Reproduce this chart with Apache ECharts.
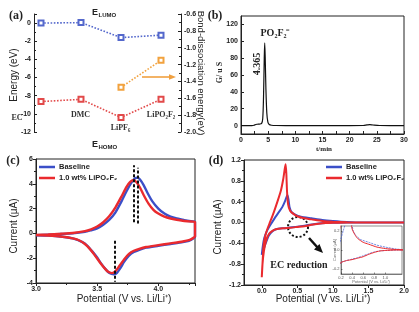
<!DOCTYPE html>
<html><head><meta charset="utf-8">
<script src="https://cdn.jsdelivr.net/npm/echarts@6/dist/echarts.min.js"></script>
<style>html,body{margin:0;padding:0;background:#fff}#c{width:419px;height:312px}</style>
</head><body><div id="c"></div>
<script>
// ---------- Panel (a) ----------
const categoriesA = ['EC', 'DMC', 'LiPF₆', 'LiPO₂F₂'];
const lumoA = [0, 0.05, -1.6, -1.33];
const homoA = [-8.65, -8.4, -10.4, -8.4];
const bondA = [null, null, -1.47, -1.15];
// ---------- Panel (b) ----------
const timeB   = [0, 1, 2, 2.4, 2.7, 3.0, 3.4, 3.8, 4.0, 4.15, 4.28, 4.365, 4.45, 4.58, 4.75, 4.95, 5.2, 5.6, 6.5, 10, 15, 20, 22.5, 23.2, 23.7, 24.3, 25.5, 30];
const signalB = [0, 0, 0, 0.4, 1.3, 1.6, 1.8, 2.6, 8, 35, 80, 98, 82, 45, 15, 4, 1.2, 0.4, 0.1, 0, 0, 0, 0.1, 0.8, 1.2, 0.7, 0.1, 0];
// ---------- Panel (c) ----------
const cvBaselineC = [[3.0,-0.15],[3.1,-0.1],[3.2,-0.05],[3.3,0.0],[3.4,0.12],[3.45,0.25],[3.5,0.4],[3.55,0.7],[3.6,1.1],[3.65,1.7],[3.7,2.6],[3.74,3.4],[3.78,4.1],[3.81,4.45],[3.83,4.5],[3.85,4.35],[3.88,3.9],[3.91,3.3],[3.95,2.6],[4.0,2.0],[4.05,1.6],[4.1,1.35],[4.15,1.2],[4.2,1.1],[4.25,1.0],[4.3,0.95],[4.3,-0.3],[4.28,-0.45],[4.25,-0.6],[4.2,-0.7],[4.1,-0.85],[4.0,-1.0],[3.9,-1.15],[3.85,-1.3],[3.8,-1.5],[3.76,-1.8],[3.72,-2.3],[3.69,-2.8],[3.66,-3.2],[3.635,-3.3],[3.6,-3.2],[3.57,-2.9],[3.53,-2.4],[3.5,-1.95],[3.46,-1.45],[3.42,-1.0],[3.38,-0.7],[3.3,-0.4],[3.2,-0.25],[3.1,-0.18],[3.0,-0.15]];
const cvLiPO2F2C = [[3.0,-0.12],[3.1,-0.08],[3.2,-0.03],[3.3,0.03],[3.4,0.18],[3.45,0.33],[3.5,0.55],[3.55,0.9],[3.6,1.4],[3.65,2.1],[3.7,3.0],[3.74,3.75],[3.77,4.15],[3.795,4.3],[3.82,4.15],[3.85,3.7],[3.88,3.1],[3.92,2.4],[3.96,1.9],[4.0,1.6],[4.05,1.35],[4.1,1.2],[4.15,1.1],[4.2,1.02],[4.25,0.97],[4.3,0.92],[4.3,-0.25],[4.28,-0.4],[4.25,-0.55],[4.2,-0.65],[4.1,-0.8],[4.0,-0.95],[3.9,-1.1],[3.85,-1.22],[3.8,-1.4],[3.76,-1.65],[3.72,-2.1],[3.68,-2.65],[3.65,-3.05],[3.62,-3.2],[3.59,-3.1],[3.56,-2.8],[3.52,-2.3],[3.48,-1.75],[3.44,-1.25],[3.4,-0.85],[3.35,-0.55],[3.3,-0.4],[3.2,-0.25],[3.1,-0.18],[3.0,-0.14]];
// ---------- Panel (d) ----------
const cvBaselineD = [[2.0,0],[1.2,0],[1.0,-0.005],[0.9,-0.01],[0.8,-0.02],[0.7,-0.04],[0.6,-0.06],[0.5,-0.08],[0.4,-0.095],[0.3,-0.11],[0.2,-0.13],[0.15,-0.17],[0.1,-0.25],[0.06,-0.38],[0.03,-0.5],[0.0,-0.62],[0.015,-0.45],[0.035,-0.3],[0.07,-0.17],[0.12,-0.05],[0.18,0.08],[0.24,0.2],[0.29,0.3],[0.33,0.42],[0.36,0.53],[0.375,0.45],[0.39,0.3],[0.42,0.2],[0.47,0.15],[0.55,0.11],[0.7,0.08],[0.85,0.05],[1.0,0.03],[1.2,0.01],[1.4,0],[2.0,0]];
const cvLiPO2F2D = [[2.0,0],[1.2,0],[1.0,-0.005],[0.9,-0.01],[0.8,-0.025],[0.7,-0.045],[0.6,-0.07],[0.5,-0.085],[0.4,-0.1],[0.3,-0.11],[0.2,-0.13],[0.15,-0.16],[0.1,-0.22],[0.06,-0.35],[0.03,-0.55],[0.01,-0.8],[0.0,-1.05],[0.01,-0.8],[0.025,-0.45],[0.05,-0.25],[0.08,-0.12],[0.12,0.02],[0.17,0.2],[0.22,0.4],[0.27,0.62],[0.3,0.82],[0.32,1.0],[0.335,1.12],[0.345,0.95],[0.355,0.6],[0.37,0.35],[0.4,0.22],[0.45,0.16],[0.5,0.12],[0.6,0.08],[0.7,0.06],[0.85,0.03],[1.0,0.015],[1.2,0.005],[1.5,0],[2.0,0]];
const seriesNames = ['Baseline', '1.0 wt% LiPO₂F₂'];
// ---------- tick labels ----------
const ticksBy = [0, 20, 40, 60, 80, 100, 120];
const ticksDx = [0, 0.5, 1.0, 1.5, 2.0];
const ticksInsetX = [0.2, 0.4, 0.6, 0.8, 1.0];
const ticksInsetY = [-0.2, 0, 0.2];

const sans = "'Liberation Sans', Arial, sans-serif";
const serif = "'Liberation Serif', 'Times New Roman', serif";
const C_BLUE = '#3b4fc8', C_RED = '#ea2a2e';

function merge(a, b) {
  const o = Array.isArray(a) ? a.slice() : Object.assign({}, a);
  for (const k in b) {
    if (b[k] && typeof b[k] === 'object' && !Array.isArray(b[k]) && a[k] && typeof a[k] === 'object') o[k] = merge(a[k], b[k]);
    else o[k] = b[k];
  }
  return o;
}
const baseAxis = {
  type: 'value',
  axisLine: { show: true, onZero: false, lineStyle: { color: '#222', width: 1 } },
  axisTick: { show: true, inside: true, length: 3, lineStyle: { color: '#222', width: 1 } },
  minorTick: { show: false },
  splitLine: { show: false },
  axisLabel: { color: '#222', fontSize: 7, fontWeight: 'bold', fontFamily: sans, margin: 3 }
};
const ax = o => merge(baseAxis, o);
const f1 = v => v.toFixed(1);

const grids = [
  { left: 34, top: 14, width: 147, height: 118 },
  { left: 241, top: 16, width: 163, height: 118, show: true, borderColor: '#222', borderWidth: 1 },
  { left: 36, top: 159, width: 159, height: 124, show: true, borderColor: '#222', borderWidth: 1 },
  { left: 244, top: 160, width: 160, height: 125, show: true, borderColor: '#222', borderWidth: 1 },
  { left: 341, top: 226, width: 61, height: 48, show: true, borderColor: '#444', borderWidth: 0.6 }
].map(g => Object.assign({ outerBoundsMode: 'none', containLabel: false }, g));

const xAxes = [
  { gridIndex: 0, type: 'value', min: -0.175, max: 3.5, show: false },
  ax({ gridIndex: 1, min: 0, max: 30, interval: 5, minorTick: { show: true, splitNumber: 2, length: 3, lineStyle: { color: '#222' } } }),
  ax({ gridIndex: 2, min: 3.0, max: 4.3, interval: 0.5, axisTick: { inside: false }, minorTick: { show: true, splitNumber: 2, length: 2 }, axisLabel: { formatter: f1, showMaxLabel: false } }),
  ax({ gridIndex: 3, min: -0.25, max: 2.0, axisTick: { inside: false, customValues: ticksDx }, axisLabel: { formatter: f1, customValues: ticksDx } }),
  ax({ gridIndex: 4, min: 0.2, max: 1.3, axisLine: { lineStyle: { width: 0.6, color: '#444' } }, axisTick: { length: 1.5, customValues: ticksInsetX, lineStyle: { width: 0.5 } }, axisLabel: { fontSize: 4, fontWeight: 'normal', color: '#555', margin: 1.5, formatter: f1, customValues: ticksInsetX } })
];
const yAxes = [
  ax({ gridIndex: 0, position: 'left', min: -12, max: 1, interval: 2, axisLabel: { showMaxLabel: false }, minorTick: { show: true, splitNumber: 2, length: 2 } }),
  ax({ gridIndex: 0, position: 'right', min: -2.0, max: -0.6, interval: 0.2, axisLabel: { formatter: f1 }, minorTick: { show: true, splitNumber: 2, length: 2 } }),
  ax({ gridIndex: 1, min: -10, max: 130, axisTick: { customValues: ticksBy }, axisLabel: { customValues: ticksBy } }),
  ax({ gridIndex: 2, min: -4, max: 6, interval: 2, axisTick: { inside: false }, minorTick: { show: true, splitNumber: 2, length: 2 } }),
  ax({ gridIndex: 3, min: -1.2, max: 1.2, interval: 0.4, axisTick: { inside: false }, axisLabel: { formatter: f1 }, minorTick: { show: true, splitNumber: 2, length: 2 } }),
  ax({ gridIndex: 4, min: -0.25, max: 0.25, axisLine: { lineStyle: { width: 0.6, color: '#444' } }, axisTick: { length: 1.5, customValues: ticksInsetY, lineStyle: { width: 0.5 } }, axisLabel: { fontSize: 4, fontWeight: 'normal', color: '#555', margin: 1.5, formatter: f1, customValues: ticksInsetY } })
];

function dotted(name, vals, color, yIdx) {
  return {
    name, type: 'line', xAxisIndex: 0, yAxisIndex: yIdx,
    data: vals.map((v, i) => [i, v]).filter(p => p[1] !== null),
    symbol: 'emptyRect', symbolSize: 5, showSymbol: true,
    lineStyle: { color, width: 1.6, type: 'dotted' },
    itemStyle: { color, borderColor: color, borderWidth: 1.2 },
    silent: true, animation: false
  };
}
function cv(name, data, color, xi, yi, width, extra) {
  return Object.assign({
    name, type: 'line', xAxisIndex: xi, yAxisIndex: yi, data,
    showSymbol: false, symbol: 'none', smooth: 0.2,
    lineStyle: { color, width }, itemStyle: { color },
    silent: true, animation: false, clip: true
  }, extra || {});
}
const dashMark = (segs) => ({
  symbol: ['none', 'none'], silent: true, label: { show: false },
  lineStyle: { color: '#111', width: 2, type: [3, 2] },
  data: segs
});

const series = [
  dotted('LUMO', lumoA, '#5468cc', 0),
  dotted('HOMO', homoA, '#e24a4a', 0),
  dotted('Bond', bondA, '#f2a23e', 1),
  { name: 'IC', type: 'line', xAxisIndex: 1, yAxisIndex: 2, data: timeB.map((t, i) => [t, signalB[i]]), showSymbol: false, symbol: 'none', smooth: 0.3, lineStyle: { color: '#111', width: 1.2 }, silent: true, animation: false },
  cv(seriesNames[0], cvBaselineC, C_BLUE, 2, 3, 2.4),
  cv(seriesNames[1], cvLiPO2F2C, C_RED, 2, 3, 2.4, {
    markLine: dashMark([
      [{ coord: [3.80, 0.9] }, { coord: [3.80, 5.5] }],
      [{ coord: [3.835, 0.8] }, { coord: [3.835, 5.3] }],
      [{ coord: [3.645, -0.6] }, { coord: [3.645, -3.9] }]
    ])
  }),
  cv(seriesNames[0], cvBaselineD, C_BLUE, 3, 4, 2),
  cv(seriesNames[1], cvLiPO2F2D, C_RED, 3, 4, 2),
  cv(seriesNames[0], cvBaselineD, '#4a64d8', 4, 5, 0.8, { lineStyle: { color: '#4a64d8', width: 0.8, type: [2, 1] } }),
  cv(seriesNames[1], cvLiPO2F2D, C_RED, 4, 5, 1)
];

const T = (text, x, y, font, opts) => Object.assign({
  type: 'text', x, y, silent: true,
  style: Object.assign({ text, font, fill: '#222', align: 'center', verticalAlign: 'middle' }, (opts && opts.style) || {})
}, opts && opts.rotation !== undefined ? { rotation: opts.rotation } : {});

const graphic = [
  // panel labels
  T('(a)', 16, 16, `bold 12px ${serif}`),
  T('(b)', 215, 16, `bold 12px ${serif}`),
  T('(c)', 13, 161, `bold 12px ${serif}`),
  T('(d)', 216, 161, `bold 12px ${serif}`),
  // (a) texts
  T('E', 92, 12.5, `bold 9px ${sans}`, { style: { align: 'left' } }),
  T('LUMO', 98.5, 15, `bold 6px ${sans}`, { style: { align: 'left' } }),
  T('E', 92, 144.5, `bold 9px ${sans}`, { style: { align: 'left' } }),
  T('HOMO', 98.5, 147, `bold 6px ${sans}`, { style: { align: 'left' } }),
  T(categoriesA[0], 17, 118, `bold 8px ${serif}`, { style: { fill: '#333' } }),
  T(categoriesA[1], 80.5, 115, `bold 8px ${serif}`, { style: { fill: '#333' } }),
  T(categoriesA[2], 120.5, 127.5, `bold 8px ${serif}`, { style: { fill: '#333' } }),
  T(categoriesA[3], 161, 115, `bold 8px ${serif}`, { style: { fill: '#333' } }),
  T('Energy (eV)', 14, 75, `10px ${sans}`, { rotation: Math.PI / 2 }),
  T('Bond-dissociation energy(eV)', 201, 73, `9.5px ${sans}`, { rotation: -Math.PI / 2 }),
  { type: 'line', silent: true, shape: { x1: 142, y1: 77, x2: 170, y2: 77 }, style: { stroke: '#f0a040', lineWidth: 1.6 } },
  { type: 'polygon', silent: true, shape: { points: [[176, 77], [169, 74.3], [169, 79.7]] }, style: { fill: '#f0a040' } },
  // (b) texts
  T('PO₂F₂⁻', 275, 33.5, `bold 10px ${serif}`),
  T('4.365', 257.5, 64, `bold 10px ${serif}`, { rotation: Math.PI / 2 }),
  T('G/ u S', 220, 72.5, `bold 8px ${serif}`, { rotation: Math.PI / 2 }),
  T('t/min', 324, 149, `bold 7px ${serif}`),
  // (c) texts
  T('Current (μA)', 14, 226, `10px ${sans}`, { rotation: Math.PI / 2 }),
  T('Potential (V vs. Li/Li⁺)', 124, 299, `10px ${sans}`),
  // (d) texts
  T('Current (μA)', 218, 227, `10px ${sans}`, { rotation: Math.PI / 2 }),
  T('Potential (V vs. Li/Li⁺)', 323, 299, `10px ${sans}`),
  T('EC reduction', 299, 265, `bold 10px ${serif}`),
  { type: 'circle', silent: true, shape: { cx: 298, cy: 227, r: 10 }, style: { fill: 'none', stroke: '#111', lineWidth: 2, lineDash: [2, 2] } },
  { type: 'line', silent: true, shape: { x1: 309, y1: 238, x2: 318, y2: 248 }, style: { stroke: '#111', lineWidth: 2.5 } },
  { type: 'polygon', silent: true, shape: { points: [[323, 253], [314, 249.5], [319.5, 244]] }, style: { fill: '#111' } },
  T('Current (μA)', 334.5, 250, `4px ${sans}`, { rotation: Math.PI / 2, style: { fill: '#666' } }),
  T('Potential (V vs. Li/Li⁺)', 371, 282, `4px ${sans}`, { style: { fill: '#666' } })
];

const legendBase = {
  orient: 'vertical', itemGap: 3, itemWidth: 16, itemHeight: 2.5, selectedMode: false,
  icon: 'rect', data: seriesNames, padding: 0,
  textStyle: { fontSize: 7.5, fontWeight: 'bold', fontFamily: sans, color: '#222', padding: [0, 0, 0, -1] }
};

const chart = echarts.init(document.getElementById('c'), null, { renderer: 'canvas' });
chart.setOption({
  backgroundColor: '#fff',
  animation: false,
  grid: grids,
  xAxis: xAxes,
  yAxis: yAxes,
  legend: [Object.assign({ left: 39, top: 163 }, legendBase), Object.assign({ left: 326, top: 163 }, legendBase)],
  series,
  graphic
});
</script></body></html>
